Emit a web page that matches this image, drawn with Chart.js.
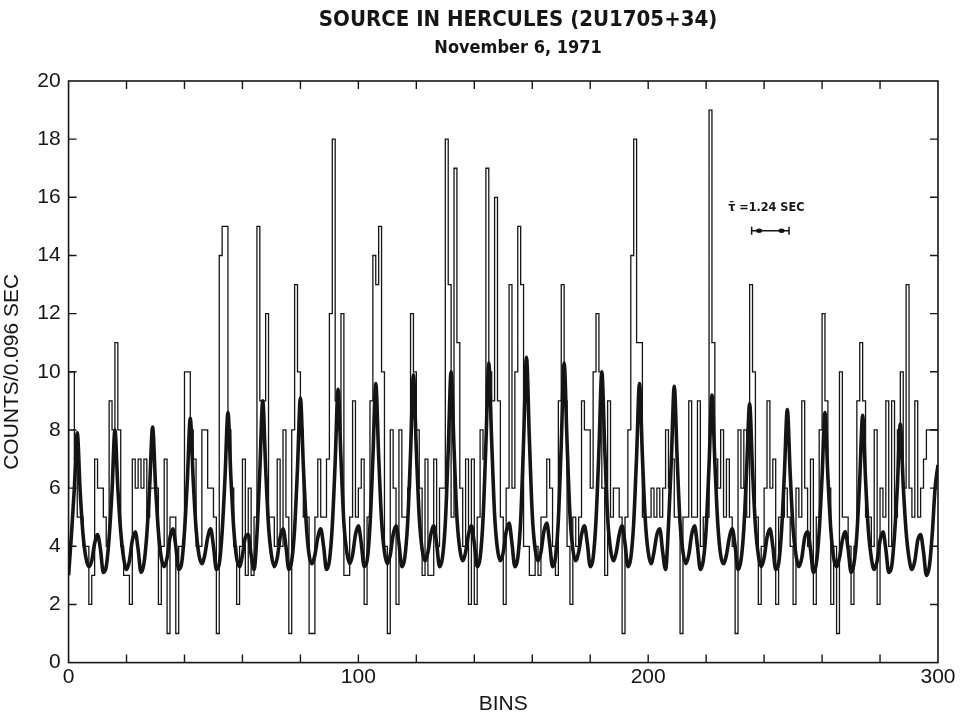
<!DOCTYPE html>
<html>
<head>
<meta charset="utf-8">
<script src="https://cdn.jsdelivr.net/npm/chart.js@4.4.1/dist/chart.umd.min.js"></script>
<style>
  html,body{margin:0;padding:0;background:#fff;}
  #wrap{width:966px;height:717px;}
</style>
</head>
<body>
<div id="wrap"><canvas id="pulses" width="966" height="717"></canvas></div>
<script>
/* Her X-1 light curve, counts per 0.096 s bin */

const titleLine = "SOURCE IN HERCULES (2U1705+34)";
const dateLine = "November 6, 1971";

// histogram: counts in each bin 0..299
const binCounts = [
  6,10,10,7,5,5,4,4,2,3,
  7,6,6,5,4,9,8,11,8,4,
  3,3,2,7,6,7,6,7,5,6,
  6,6,2,4,7,1,5,5,1,4,
  4,10,10,8,7,4,4,8,8,6,
  6,5,1,14,15,15,8,6,4,2,
  4,7,3,6,3,5,15,9,9,12,
  5,5,4,7,4,8,5,1,8,13,
  10,8,5,5,1,1,5,7,5,5,
  7,12,18,9,8,12,3,3,5,9,
  5,6,7,2,5,9,14,13,15,10,
  4,1,8,6,2,8,5,5,6,12,
  10,8,6,3,7,3,3,7,4,6,
  6,18,13,5,17,11,6,4,7,2,
  7,2,5,8,7,17,10,9,16,9,
  5,2,6,13,6,10,15,13,4,4,
  3,3,4,3,5,5,7,6,4,3,
  9,13,9,4,2,5,4,5,9,8,
  8,6,10,12,10,6,3,9,5,6,
  6,5,1,5,8,14,18,11,11,5,
  5,5,6,5,6,5,6,8,6,7,
  5,5,1,5,5,9,5,5,9,4,
  5,5,19,11,7,6,8,5,7,5,
  4,1,8,6,8,5,13,10,5,2,
  4,6,9,6,7,2,5,5,6,5,
  4,2,6,5,9,6,4,7,2,5,
  8,12,9,6,2,4,1,10,5,5,
  4,2,4,9,11,9,5,5,4,8,
  2,6,5,9,4,9,5,8,10,6,
  13,6,5,9,5,6,7,8,8,8
];

// smooth pulse curve, read at every bin 0..300
const pulseCurve = [
  3.0,4.4,6.0,7.9,5.9,4.4,3.6,3.3,3.5,4.1,
  4.4,3.9,3.1,3.3,4.3,5.9,8.0,6.0,4.5,3.6,
  3.2,3.5,4.2,4.5,3.9,3.1,3.4,4.4,6.1,8.1,
  6.1,4.5,3.6,3.3,3.6,4.3,4.6,4.0,3.2,3.4,
  4.5,6.3,8.4,6.3,4.6,3.7,3.4,3.7,4.3,4.6,
  4.0,3.2,3.4,4.5,6.4,8.6,6.4,4.6,3.6,3.3,
  3.7,4.3,4.4,3.7,3.2,4.4,6.6,9.0,6.7,4.7,
  3.7,3.3,3.6,4.3,4.6,4.0,3.2,3.5,4.6,6.7,
  9.1,6.8,4.8,3.7,3.4,3.7,4.3,4.6,4.0,3.2,
  3.5,4.7,6.9,9.4,7.0,4.8,3.8,3.4,3.7,4.4,
  4.7,4.1,3.3,3.5,4.7,7.0,9.6,7.1,4.9,3.8,
  3.4,3.7,4.4,4.7,4.1,3.3,3.6,4.8,7.2,9.9,
  7.3,5.0,3.9,3.5,3.8,4.4,4.7,4.1,3.3,3.6,
  4.8,7.3,10.0,7.4,5.0,3.9,3.5,3.8,4.4,4.7,
  4.1,3.3,3.6,4.9,7.5,10.3,7.6,5.1,3.9,3.5,
  3.8,4.5,4.8,4.1,3.3,3.6,4.9,7.6,10.5,7.7,
  5.1,3.9,3.5,3.8,4.5,4.8,4.1,3.3,3.6,4.9,
  7.5,10.3,7.6,5.1,3.9,3.5,3.8,4.4,4.7,4.1,
  3.3,3.6,4.9,7.3,10.0,7.4,5.0,3.9,3.5,3.8,
  4.4,4.7,4.1,3.3,3.6,4.8,7.1,9.6,7.1,4.9,
  3.8,3.4,3.8,4.4,4.6,3.8,3.2,4.7,7.0,9.5,
  7.0,4.8,3.8,3.4,3.7,4.4,4.7,4.0,3.2,3.5,
  4.6,6.8,9.2,6.9,4.8,3.7,3.4,3.7,4.3,4.6,
  4.0,3.2,3.5,4.6,6.7,8.9,6.6,4.7,3.7,3.3,
  3.6,4.3,4.6,4.0,3.2,3.4,4.5,6.5,8.7,6.5,
  4.6,3.7,3.3,3.6,4.3,4.5,3.9,3.1,3.4,4.5,
  6.4,8.6,6.4,4.6,3.6,3.3,3.6,4.2,4.5,3.9,
  3.1,3.4,4.4,6.3,8.5,6.3,4.5,3.6,3.2,3.5,
  4.2,4.5,3.9,3.1,3.3,4.4,6.1,8.2,6.1,4.5,
  3.6,3.2,3.5,4.2,4.4,3.8,3.0,3.3,4.4,6.0,
  6.8
];

// axes
const xRange = [0, 300];
const yRange = [0, 20];
const xLabelStep = 100;
const xTickStep = 20;
const yTickStep = 2;

// period marker: tau = 1.24 s, drawn from bin to bin at a count level
const tauLabel = "\u03C4\u0304 =1.24 SEC";
const tauBar = [235.7, 248.6];
const tauLevel = 14.85;
const tauTextAt = [227.6, 15.65];

const INK = "#151515";

const histPoints = binCounts.map((v, i) => ({ x: i, y: v }));
histPoints.push({ x: binCounts.length, y: binCounts[binCounts.length - 1] });
const curvePoints = pulseCurve.map((v, i) => ({ x: i, y: v }));

/* frame + inward ticks, title, period marker */
const decor = {
  id: 'decor',
  afterDatasetsDraw(chart) {
    const { ctx, chartArea: a, scales: { x, y } } = chart;
    ctx.save();
    ctx.strokeStyle = INK;
    ctx.lineWidth = 1.6;
    ctx.strokeRect(a.left, a.top, a.width, a.height);

    ctx.lineWidth = 1.4;
    ctx.beginPath();
    for (let v = xRange[0] + xTickStep; v < xRange[1]; v += xTickStep) {
      const px = x.getPixelForValue(v);
      ctx.moveTo(px, a.bottom); ctx.lineTo(px, a.bottom - 8);
      ctx.moveTo(px, a.top); ctx.lineTo(px, a.top + 8);
    }
    for (let v = yRange[0] + yTickStep; v < yRange[1]; v += yTickStep) {
      const py = y.getPixelForValue(v);
      ctx.moveTo(a.left, py); ctx.lineTo(a.left + 8, py);
      ctx.moveTo(a.right, py); ctx.lineTo(a.right - 8, py);
    }
    ctx.stroke();

    // period marker
    const x1 = x.getPixelForValue(tauBar[0]);
    const x2 = x.getPixelForValue(tauBar[1]);
    const py = y.getPixelForValue(tauLevel);
    ctx.lineWidth = 1.5;
    ctx.beginPath();
    ctx.moveTo(x1, py); ctx.lineTo(x2, py);
    ctx.moveTo(x1, py - 4); ctx.lineTo(x1, py + 4);
    ctx.moveTo(x2, py - 4); ctx.lineTo(x2, py + 4);
    ctx.stroke();
    ctx.fillStyle = INK;
    const w = x2 - x1;
    [x1 + w * 0.2, x2 - w * 0.2].forEach(cx => {
      ctx.beginPath(); ctx.ellipse(cx, py, 3, 2.2, 0, 0, Math.PI * 2); ctx.fill();
    });
    ctx.font = "bold 12.5px 'DejaVu Sans Condensed', 'DejaVu Sans', sans-serif";
    ctx.textBaseline = 'middle';
    ctx.textAlign = 'left';
    ctx.fillText(tauLabel, x.getPixelForValue(tauTextAt[0]), y.getPixelForValue(tauTextAt[1]));

    // title block
    const cx = a.left + a.width * 0.517;
    ctx.textAlign = 'center';
    ctx.font = "bold 22px 'DejaVu Sans Condensed', 'Liberation Sans Narrow', sans-serif";
    ctx.fillText(titleLine, cx, 20);
    ctx.font = "bold 18px 'DejaVu Sans Condensed', 'Liberation Sans Narrow', sans-serif";
    ctx.fillText(dateLine, cx, 48);
    ctx.restore();
  }
};

const tickFont = { family: "'Liberation Sans', 'DejaVu Sans', sans-serif", size: 21 };

new Chart(document.getElementById('pulses'), {
  type: 'line',
  data: {
    datasets: [
      {
        data: histPoints,
        stepped: 'after',
        borderColor: INK,
        borderWidth: 1.3,
        pointRadius: 0,
        fill: false
      },
      {
        data: curvePoints,
        cubicInterpolationMode: 'monotone',
        borderColor: INK,
        borderWidth: 3.6,
        pointRadius: 0,
        fill: false
      }
    ]
  },
  options: {
    responsive: false,
    animation: false,
    layout: { padding: { top: 81, right: 28, left: 0, bottom: 0 } },
    plugins: { legend: { display: false }, tooltip: { enabled: false } },
    scales: {
      x: {
        type: 'linear',
        min: xRange[0], max: xRange[1],
        grid: { display: false, drawTicks: false },
        border: { display: false },
        ticks: { stepSize: xLabelStep, color: INK, font: tickFont, padding: 2, maxRotation: 0 },
        title: { display: true, text: 'BINS', color: INK, font: tickFont, padding: { top: 0, bottom: 0 } }
      },
      y: {
        min: yRange[0], max: yRange[1],
        grid: { display: false, drawTicks: false },
        border: { display: false },
        ticks: { stepSize: yTickStep, color: INK, font: tickFont, padding: 8 },
        title: { display: true, text: 'COUNTS/0.096 SEC', color: INK, font: tickFont, padding: { top: 0, bottom: 4 } }
      }
    }
  },
  plugins: [decor]
});
</script>
</body>
</html>
